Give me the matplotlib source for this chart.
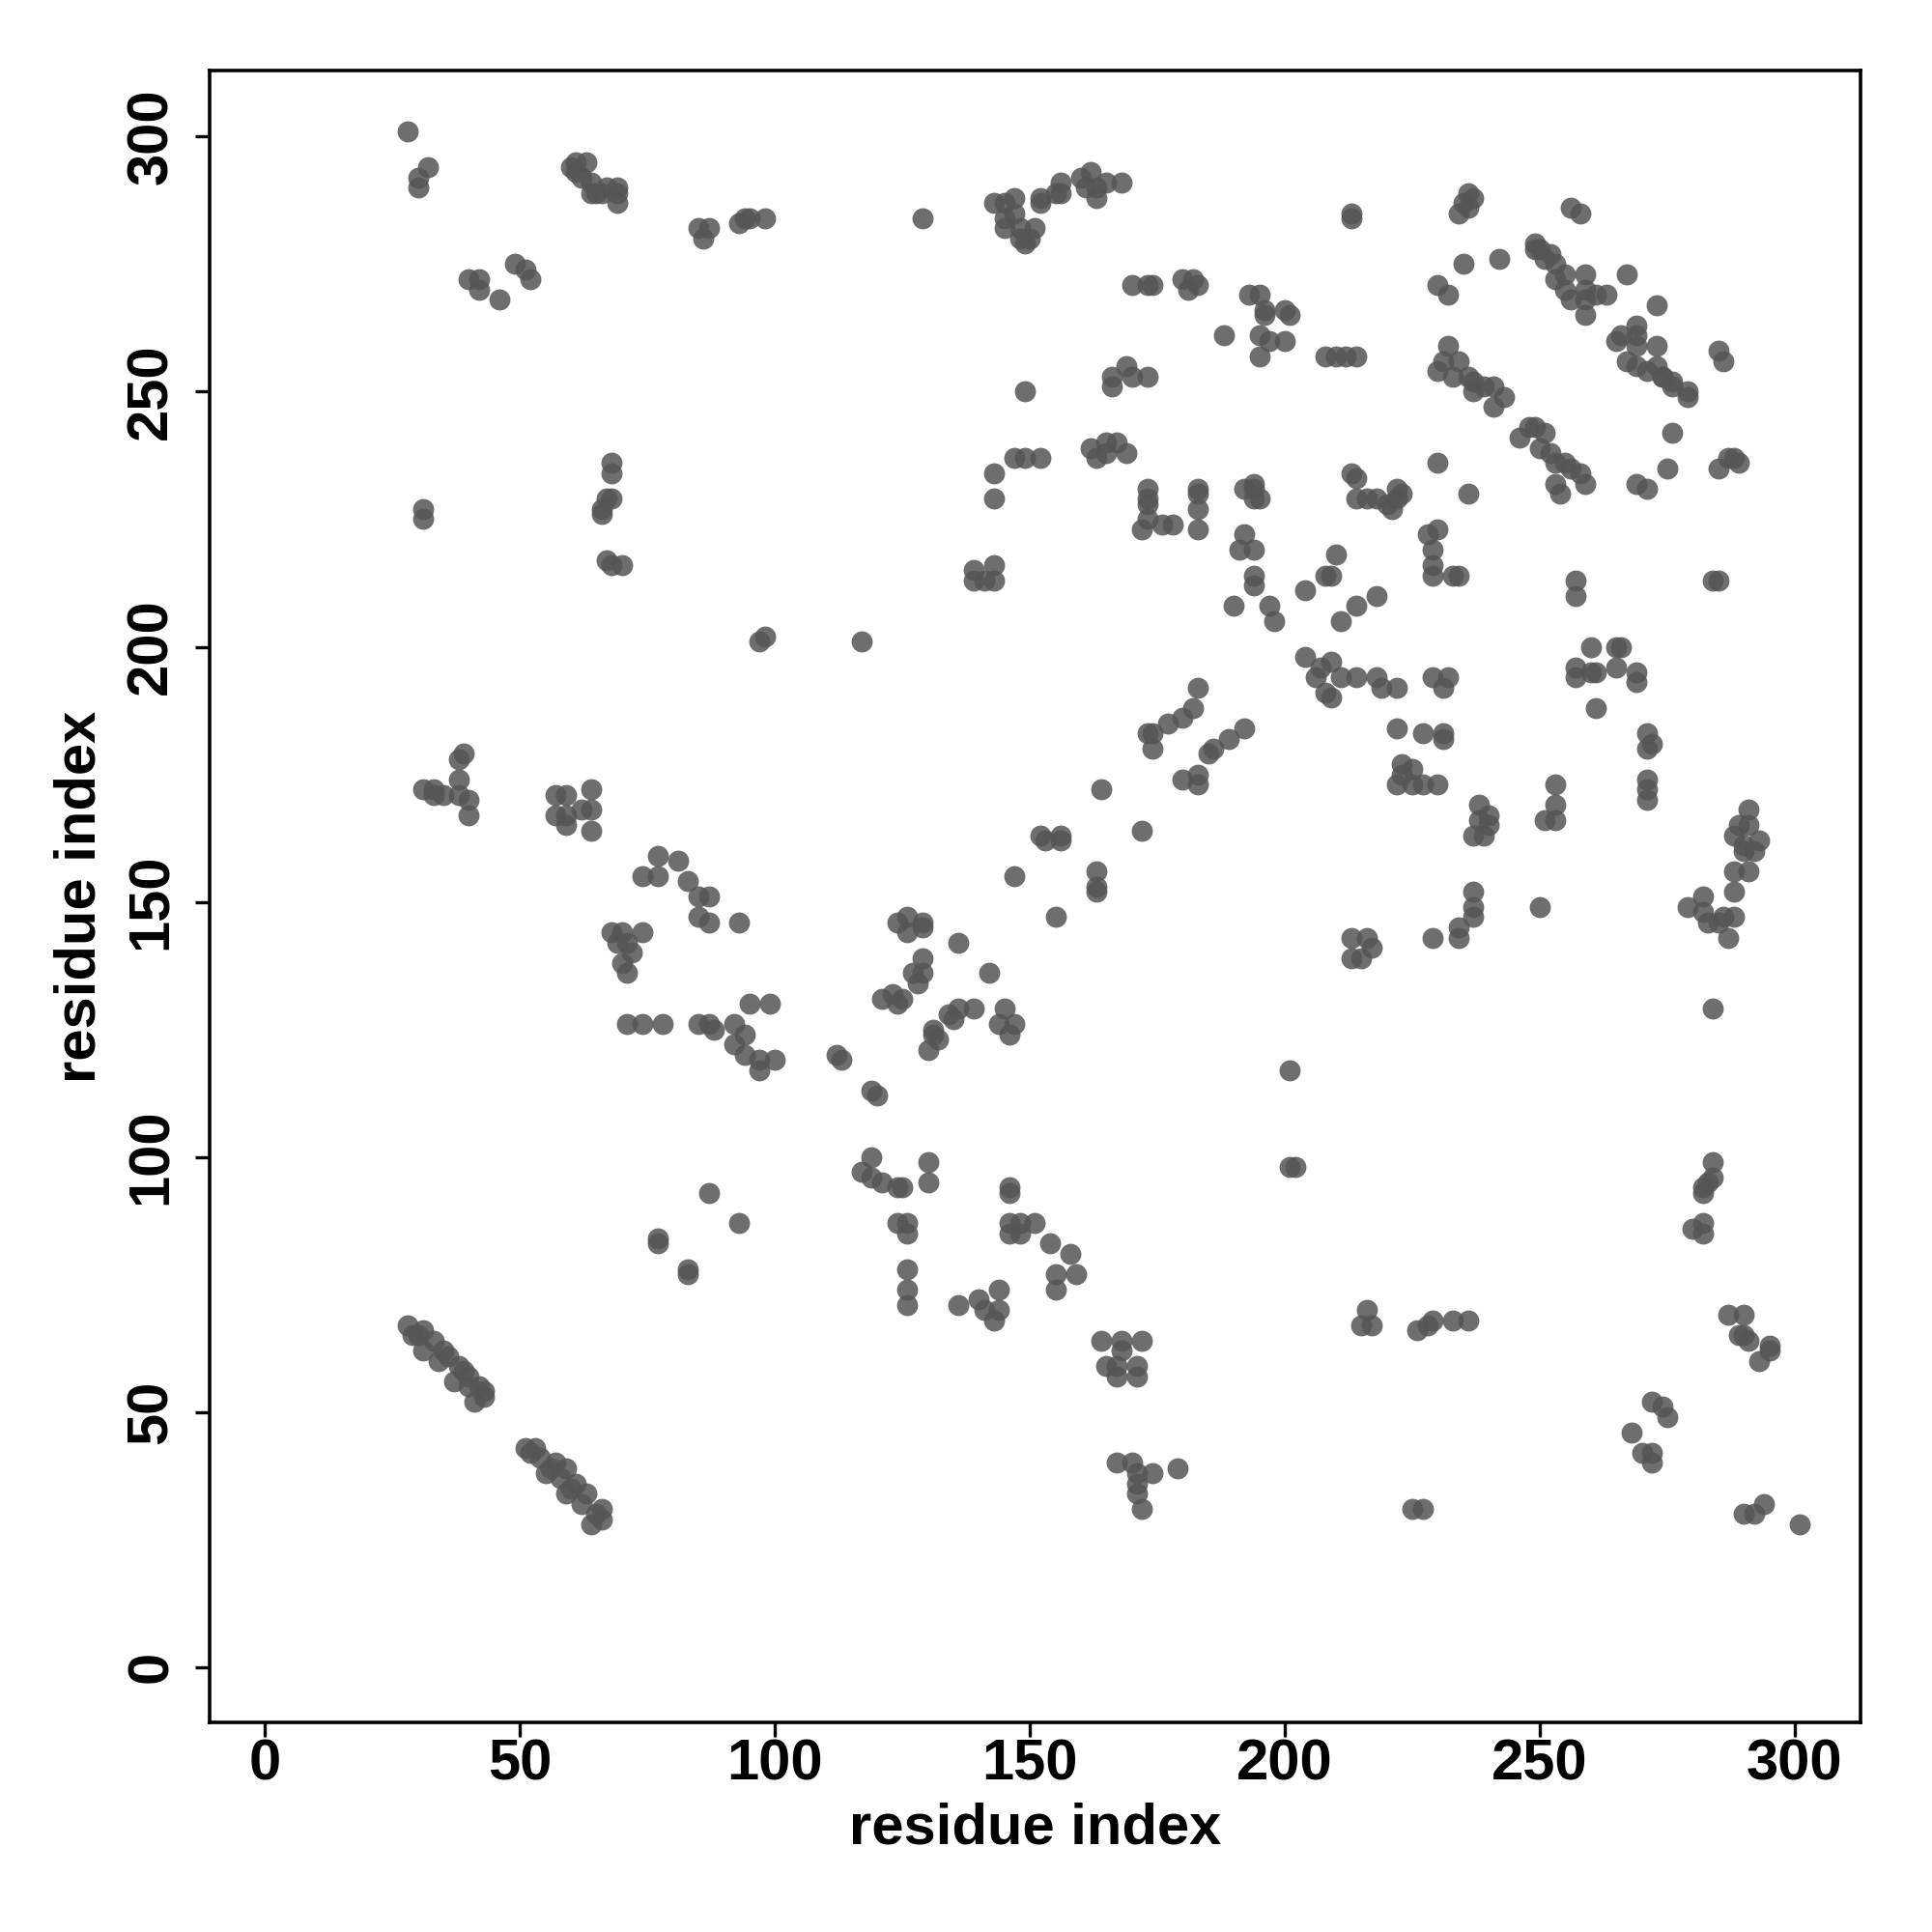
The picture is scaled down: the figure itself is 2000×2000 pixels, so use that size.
import matplotlib
matplotlib.use("Agg")
import matplotlib.pyplot as plt

# residue-pair contacts (i, j)
residue_i = [
    28, 32, 30, 30, 60, 61, 63, 62, 61, 64, 64, 65, 66, 69, 69, 69, 67, 85, 87, 86,
    93, 94, 95, 98, 40, 42, 42, 46, 49, 51, 52, 31, 31, 68, 68, 67, 66, 66, 68, 67, 68, 70,
    129, 143, 145, 147, 145, 145, 148, 151, 148, 149, 150, 147, 152, 152, 156, 156, 155,
    160, 162, 163, 165, 163, 161, 168, 170, 173, 174, 180, 182, 183, 181,
    193, 195, 196, 196, 200, 201, 188, 195, 195, 197, 200, 208, 149,
    166, 166, 169, 170, 173, 141, 139, 139, 143, 143, 143, 143, 147, 149, 152,
    162, 163, 165, 167, 169, 165, 173, 173, 172, 176, 178, 173, 173, 183, 183, 183, 183,
    194, 194, 194, 195, 192, 192, 194, 191, 194, 194, 197, 204, 208, 190, 198,
    213, 213, 235, 236, 237, 236, 234, 256, 258,
    249, 250, 252, 253, 255, 253, 255, 256, 259, 259, 261, 263, 259, 249, 251,
    259, 267, 273, 235, 242, 230, 232, 269, 269, 269, 265, 266, 273,
    267, 269, 271, 273, 274, 276, 279, 279, 276, 274, 285, 286, 276,
    287, 288, 285, 289, 275, 269, 271,
    232, 231, 230, 234, 236, 237, 239, 241, 243, 241, 233, 237,
    248, 249, 251, 250, 252, 253, 255, 256, 258, 259, 254, 253, 246,
    230, 236, 213, 214, 214, 216, 218, 220, 221, 222, 223, 222,
    228, 230, 229, 229, 229, 234, 233, 210, 209, 218, 214, 211, 257, 257, 284, 285,
    210, 212, 214,
    39, 38, 38, 40, 40, 38, 31, 33, 35, 33, 57, 59, 57, 59, 59, 62, 64, 64, 64,
    77, 81, 74, 77, 83, 85, 87, 85, 87, 93, 68, 70, 74, 71, 72, 70, 71, 69,
    71, 74, 78, 85, 87, 88, 92, 94, 92, 94, 97, 97, 95, 97, 98,
    117, 183, 182, 180, 177, 174, 173, 174, 192, 189, 186, 185, 183, 180, 183,
    204, 207, 208, 206, 164, 172, 152, 156, 153, 156, 147, 163, 163, 163, 155,
    124, 126, 129, 129, 126, 136, 129, 127, 129, 128, 121, 123, 125, 124, 142,
    134, 136, 139, 135, 131, 132, 130, 131, 145, 144, 147, 146, 99, 100, 112, 113,
    119, 120, 201, 201, 202, 119, 117, 119, 121, 124, 125, 130, 130, 146,
    260, 265, 266, 257, 260, 261, 257, 265, 269, 269, 261, 271, 272, 271, 271, 271, 271,
    209, 209, 211, 214, 218, 219, 222, 229, 232, 231, 222, 227, 231, 231,
    223, 225, 222, 225, 227, 230, 223, 238, 240, 238, 237, 239, 240,
    253, 253, 251, 253, 237, 237, 237, 234, 234, 229, 250, 213, 216, 217, 213, 215,
    291, 289, 288, 291, 293, 292, 290, 288, 291, 288, 290,
    279, 282, 282, 283, 286, 288, 287, 285, 284, 284, 284, 282, 283,
    87, 93, 77, 77, 83, 83,
    28, 31, 29, 33, 35, 38, 40, 43, 41, 43, 34, 31, 37, 40, 30, 36, 39, 42,
    51, 53, 57, 59, 61, 63, 66, 66, 64, 55, 59, 62, 52, 54, 56, 58, 60, 65,
    126, 124, 126, 126, 126, 126, 136, 140, 141, 144, 144, 143, 146,
    146, 148, 151, 148, 146, 154, 158, 155, 159, 155,
    164, 168, 172, 168, 165, 167, 171, 171, 167,
    167, 170, 171, 174, 179, 171, 171, 172,
    282, 282, 280, 282, 216, 217, 215, 226, 229, 228, 233, 236,
    287, 290, 289, 291, 295, 293, 295, 290,
    272, 274, 275, 268, 270, 272, 272, 225, 227, 290, 292, 294, 301,
]
residue_j = [
    301, 294, 292, 290, 294, 295, 295, 292, 293, 291, 289, 289, 289, 290, 289, 287, 290, 282, 282, 280,
    283, 284, 284, 284, 272, 272, 270, 268, 275, 274, 272, 227, 225, 236, 234, 229, 227, 226, 229, 217, 216, 216,
    284, 287, 287, 288, 284, 282, 282, 282, 280, 279, 280, 285, 288, 287, 291, 289, 289,
    292, 293, 290, 291, 288, 290, 291, 271, 271, 271, 272, 272, 271, 270,
    269, 269, 266, 265, 266, 265, 261, 261, 257, 260, 260, 257, 250,
    253, 251, 255, 253, 253, 213, 215, 213, 216, 213, 234, 229, 237, 237, 237,
    239, 237, 240, 240, 238, 238, 231, 225, 223, 224, 224, 228, 229, 231, 230, 227, 223,
    232, 231, 229, 229, 231, 222, 219, 219, 214, 212, 208, 211, 214, 208, 205,
    285, 284, 287, 289, 288, 286, 285, 286, 285,
    279, 278, 277, 275, 273, 272, 270, 268, 268, 270, 269, 269, 265, 278, 276,
    273, 273, 267, 275, 276, 271, 269, 263, 261, 259, 260, 261, 259,
    256, 255, 254, 255, 253, 252, 250, 249, 251, 253, 258, 256, 242,
    237, 237, 235, 236, 235, 232, 231,
    259, 256, 254, 256, 253, 252, 251, 251, 249, 247, 253, 250,
    243, 243, 242, 239, 238, 236, 236, 235, 234, 232, 230, 232, 241,
    236, 230, 234, 233, 229, 229, 229, 228, 227, 231, 230, 229,
    222, 223, 219, 216, 214, 214, 214, 218, 214, 210, 208, 205, 213, 210, 213, 213,
    257, 257, 257,
    179, 178, 174, 170, 167, 171, 172, 172, 171, 171, 171, 171, 167, 167, 165, 168, 168, 172, 164,
    159, 158, 155, 155, 154, 151, 151, 147, 146, 146, 144, 144, 144, 142, 140, 138, 136, 142,
    126, 126, 126, 126, 126, 125, 126, 124, 122, 120, 119, 117, 130, 201, 202,
    201, 192, 188, 186, 185, 183, 183, 180, 184, 182, 180, 179, 175, 174, 173,
    198, 196, 191, 194, 172, 164, 163, 163, 162, 162, 155, 156, 153, 152, 147,
    146, 147, 146, 145, 144, 142, 139, 136, 136, 134, 131, 132, 131, 130, 136,
    128, 129, 129, 127, 125, 123, 121, 124, 129, 126, 126, 124, 130, 119, 120, 119,
    113, 112, 117, 98, 98, 100, 97, 96, 95, 94, 94, 99, 95, 94,
    200, 200, 200, 196, 195, 195, 194, 196, 195, 193, 188, 183, 181, 180, 174, 172, 170,
    197, 190, 194, 194, 194, 192, 192, 194, 194, 192, 184, 183, 183, 182,
    177, 176, 173, 173, 173, 173, 175, 169, 167, 166, 163, 163, 165,
    173, 169, 166, 166, 152, 149, 147, 145, 143, 143, 149, 143, 143, 141, 139, 139,
    168, 165, 163, 165, 162, 160, 160, 156, 156, 152, 161,
    149, 151, 148, 146, 147, 147, 143, 146, 129, 99, 96, 94, 95,
    93, 87, 84, 83, 78, 77,
    67, 66, 65, 64, 62, 59, 57, 54, 52, 53, 60, 62, 56, 55, 65, 61, 58, 55,
    43, 43, 40, 39, 36, 34, 31, 29, 28, 38, 34, 32, 42, 41, 39, 37, 35, 30,
    87, 87, 85, 78, 74, 71, 71, 72, 70, 74, 70, 68, 93,
    87, 87, 87, 85, 85, 83, 81, 77, 77, 74,
    64, 64, 64, 62, 59, 59, 59, 57, 57,
    40, 40, 38, 38, 39, 36, 34, 31,
    93, 87, 86, 85, 70, 67, 67, 66, 68, 67, 68, 68,
    69, 69, 65, 64, 63, 60, 62, 65,
    52, 51, 49, 46, 42, 42, 40, 31, 31, 30, 30, 32, 28,
]

x_ticks = [0, 50, 100, 150, 200, 250, 300]
y_ticks = [0, 50, 100, 150, 200, 250, 300]
axis_label = "residue index"

plt.rcParams['font.family'] = ['Liberation Sans', 'DejaVu Sans']

fig = plt.figure(figsize=(10, 10), dpi=200)
ax = fig.add_axes([0.1084, 0.1084, 0.8546, 0.8552])

n = min(len(residue_i), len(residue_j))
ax.scatter(residue_i[:n], residue_j[:n], s=62, color='#555555', alpha=0.85,
           linewidths=0, zorder=2)

ax.set_xlim(-10.9, 312.9)
ax.set_ylim(-10.9, 313.0)
ax.set_xticks(x_ticks)
ax.set_yticks(y_ticks)
ax.set_xticklabels([str(t) for t in x_ticks], fontsize=21.5, fontweight='bold')
ax.set_yticklabels([str(t) for t in y_ticks], fontsize=21.5, fontweight='bold',
                   rotation=90, va='center')
ax.tick_params(axis='both', direction='out', length=5.5, width=1.2, colors='black')
ax.tick_params(axis='x', pad=0.5)
ax.tick_params(axis='y', pad=6)
for sp in ax.spines.values():
    sp.set_linewidth(1.3)
    sp.set_color('black')

ax.set_xlabel(axis_label, fontsize=21.5, fontweight='bold', labelpad=4)
ax.set_ylabel(axis_label, fontsize=21.5, fontweight='bold', labelpad=7)

fig.savefig("out.png", dpi=200, facecolor='white')
